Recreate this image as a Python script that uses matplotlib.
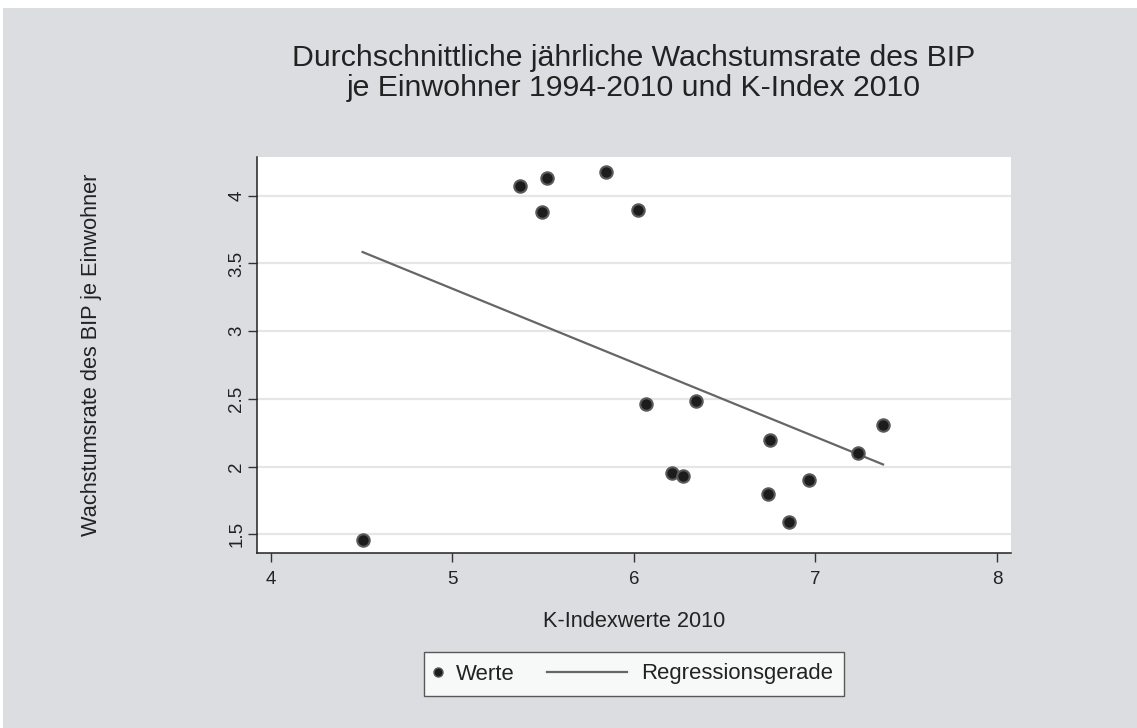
import numpy as np
import matplotlib
matplotlib.use("Agg")
import matplotlib.pyplot as plt
from matplotlib.lines import Line2D
from matplotlib.patches import Rectangle

plt.rcParams["font.family"] = ["Liberation Sans", "DejaVu Sans"]

# K-Index 2010 and average annual GDP-per-capita growth 1994-2010
k_index = [4.505, 5.370, 5.493, 5.522, 5.848, 6.020, 6.064, 6.212,
           6.269, 6.344, 6.740, 6.747, 6.855, 6.962, 7.236, 7.372]
wachstum = [1.456, 4.074, 3.877, 4.129, 4.178, 3.892, 2.459, 1.951,
            1.932, 2.482, 1.801, 2.193, 1.589, 1.899, 2.102, 2.304]

x_ticks = [4, 5, 6, 7, 8]
y_ticks = [1.5, 2, 2.5, 3, 3.5, 4]

bg = "#dcdde0"
dot_face = "#1c1c1c"
dot_edge = "#5a5a5a"
line_col = "#666666"

fig = plt.figure(figsize=(11.37, 7.28), dpi=100)
fig.patch.set_facecolor("white")
fig.patches.append(Rectangle((3 / 1137, 0), 1, 1 - 8 / 728, transform=fig.transFigure,
                             facecolor=bg, edgecolor="none", zorder=-10))

ax = fig.add_axes([257.3 / 1137, 1 - 553 / 728, (1011 - 257.3) / 1137, (553 - 157.3) / 728])
ax.set_facecolor("white")

# regression line over the data range
slope, icept = np.polyfit(k_index, wachstum, 1)
xs = np.array([min(k_index), max(k_index)])
ax.plot(xs, icept + slope * xs, color=line_col, lw=1.6, zorder=2)

ax.scatter(k_index, wachstum, s=80, facecolor=dot_face, edgecolor=dot_edge,
           linewidth=1.5, zorder=3)

ax.set_xlim(3.925, 8.077)
ax.set_ylim(1.362, 4.284)
ax.set_xticks(x_ticks)
ax.set_yticks(y_ticks)
ax.set_yticklabels([f"{v:g}" for v in y_ticks], rotation=90, va="center")
ax.yaxis.grid(True, color="#e6e6e6", lw=1.6)
ax.set_axisbelow(True)

for s in ["top", "right"]:
    ax.spines[s].set_visible(False)
for s in ["left", "bottom"]:
    ax.spines[s].set_color("#222222")
    ax.spines[s].set_linewidth(1.1)
ax.tick_params(axis="both", length=6.7, width=1.0, color="#333333",
               labelsize=13.5, labelcolor="#222222")
ax.tick_params(axis="x", pad=6.5)
ax.tick_params(axis="y", pad=2)

ax.set_xlabel("K-Indexwerte 2010", fontsize=15.7, color="#222222")
ax.set_ylabel("Wachstumsrate des BIP je Einwohner", fontsize=15.7, color="#222222")
ax.xaxis.set_label_coords(0.5, -0.1466)
ax.yaxis.set_label_coords(-0.2067, 0.5)

fig.text(634 / 1137, 1 - 44 / 728,
         "Durchschnittliche jährliche Wachstumsrate des BIP\nje Einwohner 1994-2010 und K-Index 2010",
         ha="center", va="top", fontsize=21.8, color="#222222", linespacing=1.07)


class DotHandler:
    def legend_artist(self, legend, orig_handle, fontsize, handlebox):
        w, h = handlebox.width, handlebox.height
        m = Line2D([w - 2.5], [h / 2], marker="o", ls="none", markersize=6.5,
                   markerfacecolor=dot_face, markeredgecolor=dot_edge, markeredgewidth=1)
        handlebox.add_artist(m)
        return m


class LongLineHandler:
    def legend_artist(self, legend, orig_handle, fontsize, handlebox):
        w, h = handlebox.width, handlebox.height
        ln = Line2D([w - 57.6, w], [h / 2, h / 2], color=line_col, lw=1.6)
        handlebox.add_artist(ln)
        return ln


dot_key = Line2D([], [], marker="o", ls="none")
line_key = Line2D([], [], color=line_col)
leg = fig.legend([dot_key, line_key], ["Werte", "Regressionsgerade"],
                 handler_map={dot_key: DotHandler(), line_key: LongLineHandler()},
                 loc="center", bbox_to_anchor=(634 / 1137, 1 - 674 / 728), ncol=2,
                 fontsize=15.9, frameon=True, fancybox=False, edgecolor="#333333",
                 handlelength=0.3, handletextpad=0.62, columnspacing=4.8,
                 borderpad=0.5, borderaxespad=0)
leg.get_frame().set_linewidth(1.0)
leg.get_frame().set_facecolor("white")
for t in leg.get_texts():
    t.set_color("#222222")

fig.savefig("out.png", dpi=100, facecolor=fig.get_facecolor())
